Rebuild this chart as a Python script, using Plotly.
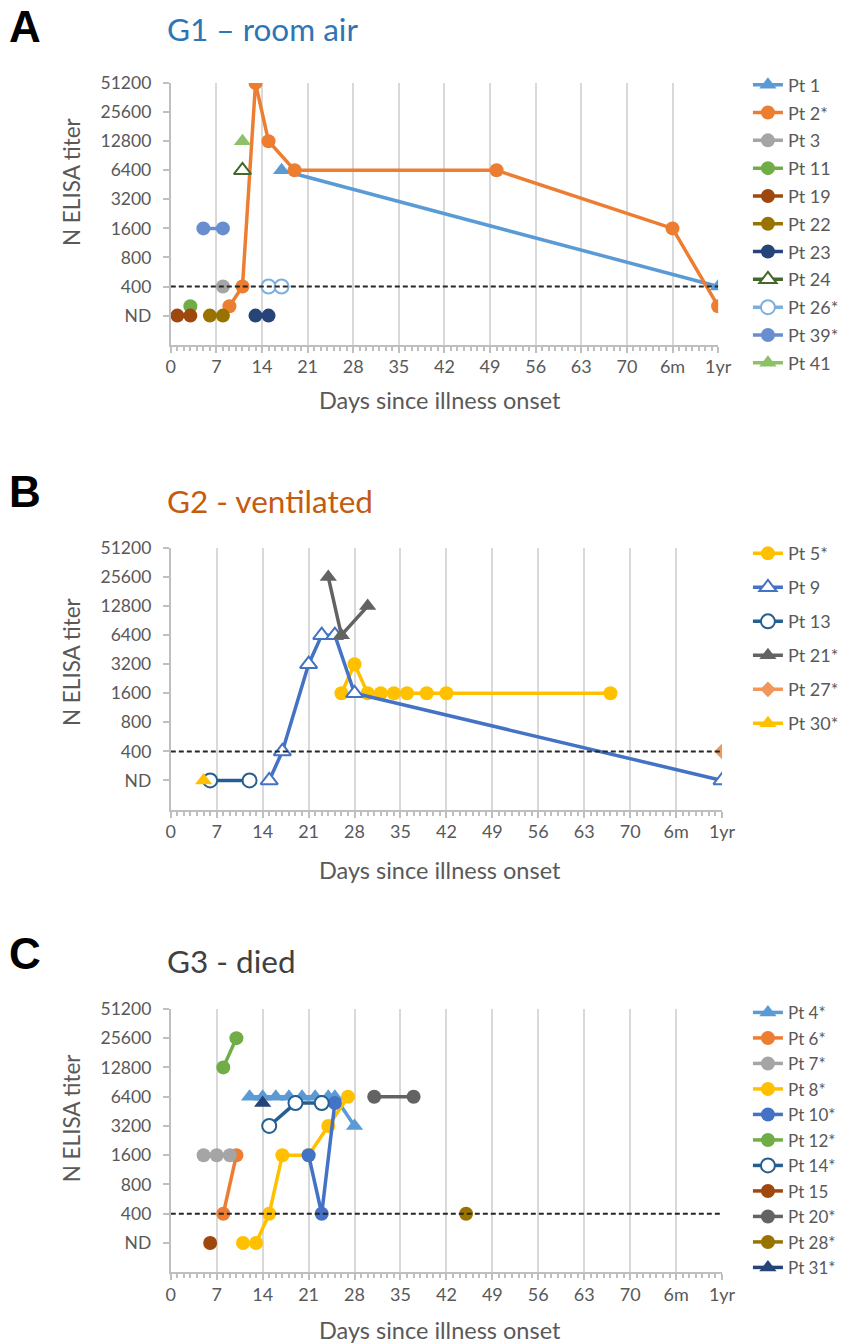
import plotly.graph_objects as go

W, H = 846, 1344
FONT = "Lato"
TXT = "#595959"

# ---------------- tick labels ----------------
x_tickvals = [0, 7, 14, 21, 28, 35, 42, 49, 56, 63, 70, 77, 84]
x_ticktext = ["0", "7", "14", "21", "28", "35", "42", "49", "56", "63", "70", "6m", "1yr"]
y_tickvals = [200, 400, 800, 1600, 3200, 6400, 12800, 25600, 51200]
y_ticktext = ["ND", "400", "800", "1600", "3200", "6400", "12800", "25600", "51200"]
CUTOFF = 400

# ---------------- Panel A: G1 - room air ----------------
A_names = ["Pt 1", "Pt 2*", "Pt 3", "Pt 11", "Pt 19", "Pt 22", "Pt 23", "Pt 24", "Pt 26*", "Pt 39*", "Pt 41"]
A_days = [
    [17, 84],
    [9, 11, 13, 15, 19, 50, 77, 84],
    [8],
    [3],
    [1, 3],
    [6, 8],
    [13, 15],
    [11],
    [15, 17],
    [5, 8],
    [11],
]
A_titer = [
    [6400, 400],
    [250, 400, 51200, 12800, 6400, 6400, 1600, 250],
    [400],
    [250],
    [200, 200],
    [200, 200],
    [200, 200],
    [6400],
    [400, 400],
    [1600, 1600],
    [12800],
]
A_colors = ["#5B9BD5", "#ED7D31", "#A5A5A5", "#70AD47", "#9E480E", "#997300", "#264478", "#43682B", "#7CAFDD", "#698ED0", "#8CC168"]
A_symbols = ["triangle-up", "circle", "circle", "circle", "circle", "circle", "circle", "triangle-up-o", "circle-o", "circle", "triangle-up"]

# ---------------- Panel B: G2 - ventilated ----------------
B_names = ["Pt 5*", "Pt 9", "Pt 13", "Pt 21*", "Pt 27*", "Pt 30*"]
B_days = [
    [26, 28, 30, 32, 34, 36, 39, 42, 67],
    [15, 17, 21, 23, 25, 28, 84],
    [6, 12],
    [24, 26, 30],
    [84],
    [5],
]
B_titer = [
    [1600, 3200, 1600, 1600, 1600, 1600, 1600, 1600, 1600],
    [200, 400, 3200, 6400, 6400, 1600, 200],
    [200, 200],
    [25600, 6400, 12800],
    [400],
    [200],
]
B_colors = ["#FFC000", "#4472C4", "#255E91", "#636363", "#F1975A", "#FFC000"]
B_symbols = ["circle", "triangle-up-o", "circle-o", "triangle-up", "diamond", "triangle-up"]

# ---------------- Panel C: G3 - died ----------------
C_names = ["Pt 4*", "Pt 6*", "Pt 7*", "Pt 8*", "Pt 10*", "Pt 12*", "Pt 14*", "Pt 15", "Pt 20*", "Pt 28*", "Pt 31*"]
C_days = [
    [12, 14, 16, 18, 20, 22, 24, 25, 28],
    [8, 10],
    [5, 7, 9],
    [11, 13, 15, 17, 21, 24, 27],
    [21, 23, 25],
    [8, 10],
    [15, 19, 23],
    [6],
    [31, 37],
    [45],
    [14],
]
C_titer = [
    [6400, 6400, 6400, 6400, 6400, 6400, 6400, 6400, 3200],
    [400, 1600],
    [1600, 1600, 1600],
    [200, 200, 400, 1600, 1600, 3200, 6400],
    [1600, 400, 5500],
    [12800, 25600],
    [3200, 5500, 5500],
    [200],
    [6400, 6400],
    [400],
    [5500],
]
C_colors = ["#5B9BD5", "#ED7D31", "#A5A5A5", "#FFC000", "#4472C4", "#70AD47", "#255E91", "#9E480E", "#636363", "#997300", "#264478"]
C_symbols = ["triangle-up", "circle", "circle", "circle", "circle", "circle", "circle-o", "circle", "circle", "circle", "triangle-up"]

# ---------------- layout geometry (pixels) ----------------
panels = [
    dict(names=A_names, days=A_days, titer=A_titer, colors=A_colors, symbols=A_symbols,
         px=(169.6, 729.5), py=(72.7, 336.4), letter="A", title="G1 – room air", tcolor="#2E75B6",
         ty=18, ly=16, legy=56, gap=1.4, legfs=18, xt_y=392, yt_y=172),
    dict(names=B_names, days=B_days, titer=B_titer, colors=B_colors, symbols=B_symbols,
         px=(169.6, 733.5), py=(541.4, 805.1), letter="B", title="G2 - ventilated", tcolor="#C55A11",
         ty=493.6, ly=484, legy=528.5, gap=7.6, legfs=18, xt_y=865.7, yt_y=656),
    dict(names=C_names, days=C_days, titer=C_titer, colors=C_colors, symbols=C_symbols,
         px=(169.6, 733.5), py=(1006.1, 1271.7), letter="C", title="G3 - died", tcolor="#404040",
         ty=958.3, ly=950, legy=992, gap=0.4, legfs=17, xt_y=1330, yt_y=1116),
]

fig = go.Figure()
annotations = []
layout = {}

for i, p in enumerate(panels):
    k = "" if i == 0 else str(i + 1)
    xa, ya = "x" + k, "y" + k
    leg = "legend" + k
    for j, (nm, d, t, c, s) in enumerate(zip(p["names"], p["days"], p["titer"], p["colors"], p["symbols"])):
        open_m = s.endswith("-o")
        sym = s[:-2] if open_m else s
        size = 14 if sym == "circle" else (15 if sym.startswith("triangle") else 12)
        fig.add_trace(go.Scatter(
            x=d, y=t, name=nm, mode="lines+markers", xaxis=xa, yaxis=ya,
            legend=leg, legendgroup=f"{i}-{j}",
            line=dict(color=c, width=3.5),
            marker=dict(symbol=sym, size=size,
                        color="white" if open_m else c,
                        line=dict(color=c, width=2 if open_m else 0)),
        ))
    # cut-off line
    fig.add_trace(go.Scatter(
        x=[x_tickvals[0], x_tickvals[-1]], y=[CUTOFF, CUTOFF], mode="lines",
        xaxis=xa, yaxis=ya, showlegend=False, hoverinfo="skip",
        line=dict(color="#262626", width=2, dash="5px,3px"),
    ))

    x0, x1 = p["px"]
    y0, y1 = p["py"]
    layout["xaxis" + k] = dict(
        domain=[x0 / W, x1 / W], anchor=ya, range=[0, 84],
        tickmode="array", tickvals=x_tickvals, ticktext=x_ticktext,
        showgrid=True, gridcolor="#D9D9D9", gridwidth=1.5,
        showline=True, linecolor="#BFBFBF", linewidth=2,
        ticks="outside", ticklen=6, tickcolor="#BFBFBF", tickwidth=1.5,
        minor=dict(dtick=1, tick0=0, ticks="outside", ticklen=4, tickcolor="#BFBFBF", showgrid=False),
        ticklabelstandoff=-1,
        tickfont=dict(family=FONT, size=18, color=TXT), zeroline=False, fixedrange=True,
    )
    layout["yaxis" + k] = dict(
        domain=[1 - y1 / H, 1 - y0 / H], anchor=xa, type="log",
        range=[2, 4.70927],
        tickmode="array", tickvals=y_tickvals, ticktext=y_ticktext,
        showgrid=False, showline=True, linecolor="#BFBFBF", linewidth=2,
        ticks="outside", ticklen=6, tickcolor="#BFBFBF", tickwidth=1.5,
        ticklabelstandoff=8,
        tickfont=dict(family=FONT, size=17.5, color=TXT), zeroline=False, fixedrange=True,
    )
    layout[leg] = dict(
        x=760 / W, y=1 - p["legy"] / H, xanchor="left", yanchor="top",
        font=dict(family=FONT, size=p["legfs"], color=TXT), bgcolor="rgba(0,0,0,0)",
        traceorder="grouped", tracegroupgap=p["gap"], itemwidth=30,
    )
    annotations += [
        dict(text="<b>" + p["letter"] + "</b>", x=2 / W, y=1 - p["ly"] / H, xref="paper", yref="paper",
             xanchor="left", yanchor="middle", showarrow=False,
             font=dict(family="Liberation Sans", size=44, color="#000000")),
        dict(text=p["title"], x=164 / W, y=1 - p["ty"] / H, xref="paper", yref="paper",
             xanchor="left", yanchor="middle", showarrow=False,
             font=dict(family=FONT, size=31.5, color=p["tcolor"])),
        dict(text="Days since illness onset", x=445.4 / W, y=1 - p["xt_y"] / H,
             xref="paper", yref="paper", xanchor="center", yanchor="middle", showarrow=False,
             font=dict(family=FONT, size=23.5, color=TXT)),
        dict(text="N ELISA titer", x=68 / W, y=1 - p["yt_y"] / H, xref="paper", yref="paper",
             xanchor="center", yanchor="middle", textangle=-90, showarrow=False,
             font=dict(family=FONT, size=22.5, color=TXT)),
    ]

fig.update_layout(
    width=W, height=H, autosize=False,
    margin=dict(l=0, r=0, t=0, b=0),
    paper_bgcolor="white", plot_bgcolor="white",
    annotations=annotations, hovermode="closest",
    **layout,
)

fig.write_html(
    "out.html",
    config={"displayModeBar": False},
    post_script="document.body.style.margin='0';document.body.style.overflow='hidden';",
)
